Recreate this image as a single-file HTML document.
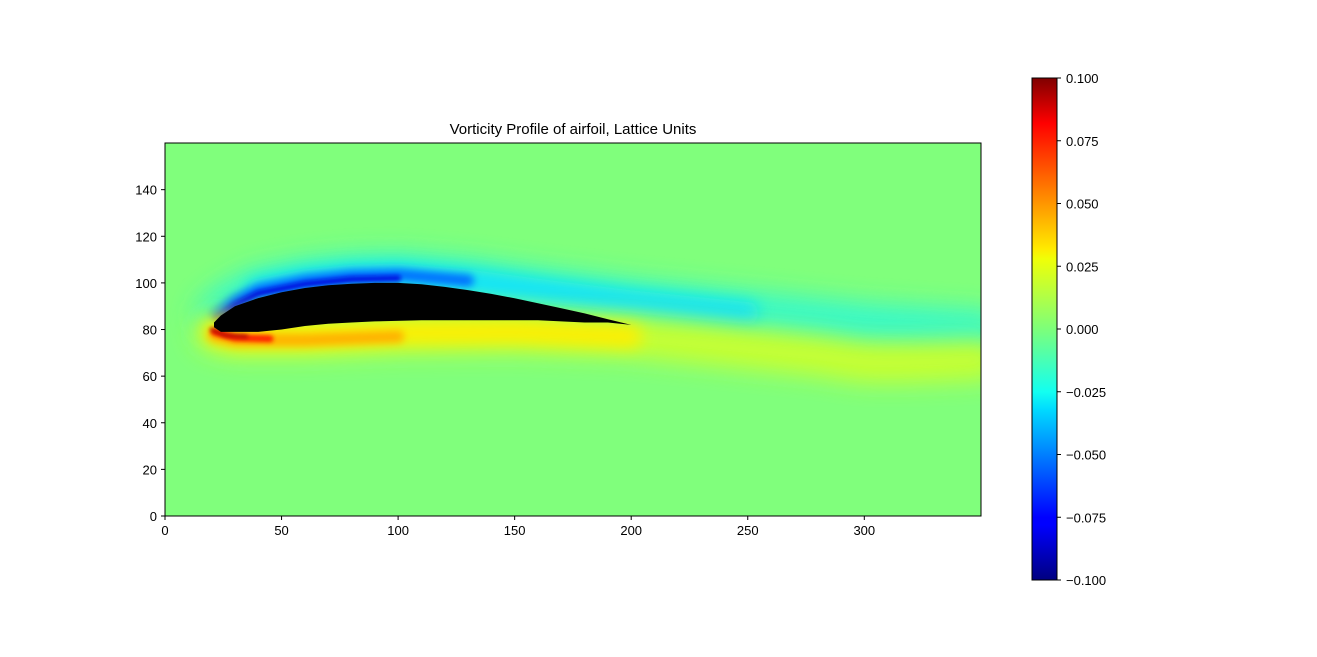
<!DOCTYPE html>
<html><head><meta charset="utf-8"><style>
body{margin:0;background:#fff;}
svg text{font-family:"Liberation Sans",sans-serif;font-size:13px;fill:#000;}
</style></head><body>
<svg id="chart" width="1317" height="652" xmlns="http://www.w3.org/2000/svg">
<defs>
<clipPath id="clip"><rect x="165" y="143" width="816" height="373"/></clipPath>
<filter id="b2" filterUnits="userSpaceOnUse" x="0" y="0" width="1317" height="652"><feGaussianBlur stdDeviation="2"/></filter>
<filter id="b4" filterUnits="userSpaceOnUse" x="0" y="0" width="1317" height="652"><feGaussianBlur stdDeviation="4"/></filter>
<filter id="b8" filterUnits="userSpaceOnUse" x="0" y="0" width="1317" height="652"><feGaussianBlur stdDeviation="8"/></filter>
<filter id="b12" filterUnits="userSpaceOnUse" x="0" y="0" width="1317" height="652"><feGaussianBlur stdDeviation="12"/></filter>
<linearGradient id="jet" x1="0" y1="1" x2="0" y2="0">
<stop offset="0" stop-color="#000080"/><stop offset="0.11" stop-color="#0000ff"/>
<stop offset="0.125" stop-color="#0000ff"/><stop offset="0.34" stop-color="#00dbff"/>
<stop offset="0.375" stop-color="#13fff0"/><stop offset="0.5" stop-color="#7dff7a"/>
<stop offset="0.64" stop-color="#f0ff07"/><stop offset="0.66" stop-color="#ffea00"/>
<stop offset="0.89" stop-color="#ff1300"/><stop offset="0.91" stop-color="#ff0000"/>
<stop offset="1" stop-color="#800000"/></linearGradient>
</defs>
<text x="573" y="134" text-anchor="middle" style="font-size:15px">Vorticity Profile of airfoil, Lattice Units</text>
<g clip-path="url(#clip)" id="field">
<rect x="165" y="143" width="816" height="373" fill="#80ff7c"/>
</g>
<rect x="165" y="143" width="816" height="373" fill="none" stroke="#000" stroke-width="1"/>
<g id="xticks"></g><g id="yticks"></g>
<rect x="1032" y="78" width="25" height="502" fill="url(#jet)" stroke="#000" stroke-width="1"/>
<g id="cticks"></g>
</svg>
<script>
const xTicks=[0,50,100,150,200,250,300];
const yTicks=[0,20,40,60,80,100,120,140];
const cTicks=[-0.1,-0.075,-0.05,-0.025,0,0.025,0.05,0.075,0.1];
const upperX=[21,24,30,40,50,60,70,80,90,100,110,120,130,140,150,160,170,180,190,200];
const upperY=[83,86,90,93.5,96,97.8,99,99.6,100,100,99.4,98.3,96.9,95.3,93.4,91.3,89.1,86.9,84.4,82];
const lowerX=[200,190,180,170,160,150,130,110,90,80,70,60,50,40,30,24,21];
const lowerY=[82,83,83,83.5,84,84,84,84,83.5,83,82.5,81.5,80,79,79,79,81];
const blueX=[22,30,40,60,80,100,130,160,200,250,300,350];
const blueY=[86,92,97,101,103,103.5,101,97,92,87,82,79];
const yelX=[21,30,60,100,150,200,250,280,300,320,350];
const yelY=[79,77,77,78.5,79,77,72,69,66,66,67];
const x0=165,y0=516,k=2.331;
const X=v=>x0+v*k, Y=v=>y0-v*k;
const NS='http://www.w3.org/2000/svg';
function mk(tag,attrs,parent){const e=document.createElementNS(NS,tag);for(const a in attrs)e.setAttribute(a,attrs[a]);parent.appendChild(e);return e;}
function pathOf(xs,ys){return xs.map((x,i)=>(i?'L':'M')+X(x).toFixed(1)+' '+Y(ys[i]).toFixed(1)).join(' ');}
const field=document.getElementById('field');
function band(d,color,w,f,op,name){const p=mk('path',{d:d,fill:'none',stroke:color,'stroke-width':w,filter:'url(#'+f+')','stroke-linecap':'round','stroke-linejoin':'round',opacity:op},field);

}
band(pathOf(blueX,blueY),'#30f8d0',44,'b12',0.9,'upper-wake-vorticity');
band(pathOf(blueX.slice(2,10),blueY.slice(2,10)),'#10e0ff',22,'b8',0.9,'upper-shear-layer');
band(pathOf(blueX.slice(0,7),blueY.slice(0,7)),'#0070ff',12,'b4',1,'upper-boundary-layer');
band(pathOf(blueX.slice(0,6),blueY.slice(0,6).map(v=>v-1.5)),'#0010e0',6,'b2',1,'upper-boundary-core');
band(pathOf(yelX,yelY),'#d0ff28',40,'b12',0.9,'lower-wake-vorticity');
band(pathOf(yelX.slice(0,6),yelY.slice(0,6)),'#ffee00',22,'b8',1,'lower-shear-layer');
band(pathOf(yelX.slice(0,4),yelY.slice(0,4).map(v=>v-1.5)),'#ffb000',12,'b4',1,'lower-boundary-layer');
band(pathOf([21,30,45],[79,76.5,76]),'#ff2000',7,'b2',1,'leading-edge-vorticity');
band(pathOf([20,26,35],[80,77.5,77]),'#a00000',3,'b2',1,'leading-edge-peak');
const p=mk('path',{d:pathOf(upperX.concat(lowerX),upperY.concat(lowerY))+'Z',fill:'#000'},field);


const xg=document.getElementById('xticks');
xTicks.forEach(t=>{const l=mk('line',{x1:X(t),x2:X(t),y1:516,y2:520,stroke:'#000'},xg);


const tx=mk('text',{x:X(t),y:535,'text-anchor':'middle'},xg);tx.textContent=t;

});
const yg=document.getElementById('yticks');
yTicks.forEach(t=>{const l=mk('line',{x1:161,x2:165,y1:Y(t),y2:Y(t),stroke:'#000'},yg);


const tx=mk('text',{x:157,y:Y(t)+5,'text-anchor':'end'},yg);tx.textContent=t;

});
const cg=document.getElementById('cticks');
const C=v=>580-(v+0.1)/0.2*502;
cTicks.forEach(t=>{const l=mk('line',{x1:1057,x2:1061,y1:C(t),y2:C(t),stroke:'#000'},cg);


const tx=mk('text',{x:1066,y:C(t)+5},cg);tx.textContent=(t<0?'\u2212':'')+Math.abs(t).toFixed(3);

});
</script>
</body></html>
